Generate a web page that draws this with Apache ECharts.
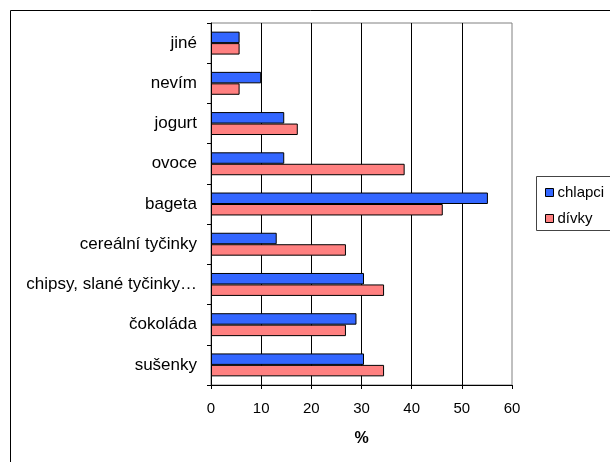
<!DOCTYPE html>
<html>
<head>
<meta charset="utf-8">
<script src="https://cdn.jsdelivr.net/npm/echarts@6/dist/echarts.min.js"></script>
<style>
  html, body { margin: 0; padding: 0; background: #fff; }
  #chart { width: 610px; height: 462px; }
</style>
</head>
<body>
<div id="chart"></div>
<script>
// Categories listed top to bottom
const categories = ['jiné', 'nevím', 'jogurt', 'ovoce', 'bageta', 'cereální tyčinky', 'chipsy, slané tyčinky…', 'čokoláda', 'sušenky'];
const chlapci = [5.7, 10.0, 14.6, 14.6, 55.2, 13.1, 30.5, 29.0, 30.5];
const divky = [5.7, 5.7, 17.3, 38.6, 46.2, 26.9, 34.5, 26.9, 34.5];
const xTicks = [0, 10, 20, 30, 40, 50, 60];

const FONT = 'Liberation Sans, Arial, sans-serif';
const chart = echarts.init(document.getElementById('chart'), null, { renderer: 'canvas' });

chart.setOption({
  animation: false,
  backgroundColor: '#fff',
  textStyle: { fontFamily: FONT },
  graphic: [
    { type: 'rect', shape: { x: 10.5, y: 10.5, width: 700, height: 600 }, style: { fill: 'none', stroke: '#000', lineWidth: 1 }, z: 0 },
    { type: 'rect', shape: { x: 536.5, y: 176.5, width: 100, height: 54 }, style: { fill: '#fff', stroke: '#444', lineWidth: 1 }, z: 1 }
  ],
  legend: {
    orient: 'vertical',
    left: 540,
    top: 180,
    itemWidth: 8,
    itemHeight: 8,
    itemGap: 11,
    textStyle: { fontFamily: FONT, fontSize: 15, color: '#000', padding: [0, 0, 0, -1] },
    data: [
      { name: 'chlapci', icon: 'rect', itemStyle: { borderColor: '#000', borderWidth: 1 } },
      { name: 'dívky', icon: 'rect', itemStyle: { borderColor: '#000', borderWidth: 1 } }
    ],
    z: 5
  },
  grid: {
    left: 211, right: 98, top: 23, bottom: 77,
    show: true, borderColor: '#808080', borderWidth: 1
  },
  xAxis: {
    type: 'value',
    min: xTicks[0],
    max: xTicks[xTicks.length - 1],
    interval: 10,
    name: '%',
    nameLocation: 'middle',
    nameGap: 46,
    nameTextStyle: { fontFamily: FONT, fontSize: 16, fontWeight: 'bold', color: '#000' },
    axisLine: { show: true, lineStyle: { color: '#000', width: 1 } },
    axisTick: { show: true, length: 4, lineStyle: { color: '#000' } },
    axisLabel: { fontFamily: FONT, fontSize: 15, color: '#000', margin: 16 },
    splitLine: { show: true, showMinLine: false, showMaxLine: false, lineStyle: { color: '#000', width: 1 } }
  },
  yAxis: {
    type: 'category',
    inverse: true,
    data: categories,
    axisLine: { show: true, lineStyle: { color: '#000', width: 1 } },
    axisTick: { show: true, length: 4, lineStyle: { color: '#000' } },
    axisLabel: { fontFamily: FONT, fontSize: 17, color: '#000', margin: 14 }
  },
  series: [
    {
      name: 'chlapci', type: 'bar', data: chlapci,
      barGap: '0%', barCategoryGap: '43%',
      itemStyle: { color: '#3366FF', borderColor: '#000', borderWidth: 1 }
    },
    {
      name: 'dívky', type: 'bar', data: divky,
      barGap: '0%', barCategoryGap: '43%',
      itemStyle: { color: '#FF8080', borderColor: '#000', borderWidth: 1 }
    }
  ]
});
</script>
</body>
</html>
